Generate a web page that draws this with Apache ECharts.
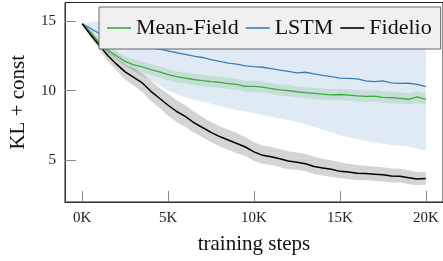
<!DOCTYPE html>
<html><head><meta charset="utf-8">
<script src="https://cdn.jsdelivr.net/npm/echarts@6/dist/echarts.min.js"></script>
<style>html,body{margin:0;padding:0;background:#fff}#c{width:443px;height:261px}</style>
</head><body><div id="c"></div>
<script>
const steps = [0,500,1000,1500,2000,2500,3000,3500,4000,4500,5000,5500,6000,6500,7000,7500,8000,8500,9000,9500,10000,10500,11000,11500,12000,12500,13000,13500,14000,14500,15000,15500,16000,16500,17000,17500,18000,18500,19000,19500,20000];
const xTicks = [0,5000,10000,15000,20000];
const yTicks = [5,10,15];
const seriesNames = ['Mean-Field','LSTM','Fidelio'];

const meanField = [14.8,14.2,13.4,12.9,12.5,12.1,11.85,11.7,11.5,11.35,11.15,11.0,10.9,10.8,10.72,10.65,10.6,10.5,10.45,10.3,10.3,10.25,10.15,10.05,10.0,9.92,9.85,9.8,9.75,9.7,9.72,9.68,9.62,9.58,9.6,9.52,9.5,9.45,9.38,9.55,9.38];
const meanFieldLo = [14.75,13.95,13.1,12.55,12.15,11.75,11.45,11.3,11.1,10.95,10.75,10.6,10.5,10.4,10.3,10.25,10.2,10.1,10.05,9.92,9.9,9.85,9.75,9.65,9.6,9.52,9.45,9.4,9.35,9.3,9.3,9.28,9.22,9.18,9.2,9.12,9.1,9.05,9.0,9.12,9.0];
const meanFieldHi = [14.85,14.45,13.7,13.25,12.85,12.45,12.25,12.1,11.9,11.75,11.55,11.4,11.3,11.2,11.15,11.05,11.0,10.92,10.85,10.7,10.72,10.65,10.55,10.45,10.42,10.32,10.25,10.2,10.15,10.12,10.12,10.1,10.02,10.0,10.02,9.95,9.92,9.88,9.8,9.98,9.8];

const lstm = [14.8,14.45,14.1,13.85,13.6,13.4,13.25,13.15,13.05,12.98,12.85,12.72,12.6,12.48,12.38,12.22,12.1,11.98,11.9,11.78,11.72,11.68,11.58,11.48,11.38,11.28,11.32,11.2,11.1,11.0,10.9,10.88,10.85,10.7,10.65,10.7,10.55,10.52,10.53,10.45,10.28];
const lstmLo = [14.8,13.9,13.3,12.75,12.3,11.85,11.4,11.05,10.7,10.35,10.0,9.75,9.5,9.35,9.2,9.05,8.9,8.75,8.6,8.5,8.4,8.25,8.1,8.0,7.9,7.75,7.6,7.4,7.2,7.0,6.8,6.65,6.5,6.4,6.3,6.2,6.1,6.05,6.0,5.85,5.7];
const lstmHi = [14.8,14.95,15.0,15.0,15.0,15.0,15.0,15.0,15.0,15.0,15.0,15.0,15.0,15.0,15.0,15.0,15.0,15.0,15.0,15.0,15.0,15.0,15.0,15.0,15.0,15.0,15.0,15.0,15.0,15.0,15.0,15.0,15.0,15.0,15.0,15.0,15.0,15.0,15.0,15.0,15.0];

const fidelio = [14.8,14.0,13.25,12.5,11.9,11.35,10.95,10.55,9.95,9.45,8.95,8.5,8.15,7.7,7.35,7.0,6.7,6.45,6.2,5.95,5.6,5.35,5.25,5.1,4.95,4.85,4.75,4.55,4.45,4.35,4.2,4.15,4.07,4.05,4.0,3.95,3.87,3.85,3.75,3.65,3.68];
const fidelioLo = [14.75,13.8,12.95,12.1,11.45,10.8,10.35,9.9,9.25,8.75,8.2,7.75,7.4,7.0,6.65,6.3,6.0,5.75,5.5,5.3,4.95,4.75,4.65,4.5,4.35,4.3,4.2,4.0,3.9,3.8,3.7,3.65,3.58,3.56,3.52,3.48,3.4,3.4,3.3,3.2,3.25];
const fidelioHi = [14.85,14.2,13.55,12.9,12.4,11.9,11.6,11.25,10.7,10.2,9.75,9.3,8.95,8.5,8.1,7.75,7.45,7.2,6.95,6.65,6.3,6.05,5.95,5.8,5.65,5.55,5.45,5.25,5.1,5.0,4.85,4.75,4.65,4.6,4.55,4.5,4.4,4.38,4.28,4.15,4.15];

const FONT = 'Liberation Serif';
const cBlue = '#3a7dc2', cGreen = '#3fa83f', cBlack = '#000000';

function pairs(v){ return steps.map((s,i)=>[s,v[i]]); }
function band(name, lo, hi, fill, z){
  return {
    type:'custom', name:name, silent:true, z:z, clip:true,
    data:[[0,lo[0]]], encode:{x:0,y:1},
    renderItem:function(params, api){
      const pts=[];
      for(let i=0;i<steps.length;i++) pts.push(api.coord([steps[i],hi[i]]));
      for(let i=steps.length-1;i>=0;i--) pts.push(api.coord([steps[i],lo[i]]));
      return {type:'polygon', shape:{points:pts}, style:{fill:fill}};
    }
  };
}
function line(name, v, color, w, z){
  return {type:'line', name:name, data:pairs(v), showSymbol:false, symbol:'none', z:z,
    lineStyle:{color:color,width:w}, itemStyle:{color:color}, animation:false};
}

const chart = echarts.init(document.getElementById('c'), null, {renderer:'canvas'});
chart.setOption({
  animation:false,
  grid:{left:62, top:2.5, width:385.5, height:199.5, show:true, borderColor:'#222', borderWidth:1, backgroundColor:'transparent'},
  legend:{
    data:seriesNames, left:99, top:7, orient:'horizontal',
    icon:'rect', itemWidth:24, itemHeight:1.6, itemGap:7,
    padding:[10,9,10,8],
    backgroundColor:'#f0f0f0', borderColor:'#666', borderWidth:1, borderRadius:0,
    textStyle:{fontFamily:FONT, fontSize:22, color:'#111'},
    z:10
  },
  xAxis:{
    type:'value', min:-1000, max:21000,
    name:'training steps', nameLocation:'middle', nameGap:32,
    nameTextStyle:{fontFamily:FONT, fontSize:21, color:'#111'},
    axisLine:{show:true, onZero:false, lineStyle:{color:'#333', width:1}},
    axisTick:{show:true, inside:true, length:11, customValues:xTicks, lineStyle:{color:'#888'}},
    axisLabel:{customValues:xTicks, margin:9, fontFamily:FONT, fontSize:15, color:'#222',
      formatter:function(v){return (v/1000)+'K';}},
    splitLine:{show:false}
  },
  yAxis:{
    type:'value', min:2, max:16.33,
    name:'KL + const', nameLocation:'middle', nameGap:36, nameRotate:90,
    nameTextStyle:{fontFamily:FONT, fontSize:21, color:'#111'},
    axisLine:{show:true, onZero:false, lineStyle:{color:'#333', width:1}},
    axisTick:{show:true, inside:true, length:11, customValues:yTicks, lineStyle:{color:'#888'}},
    axisLabel:{customValues:yTicks, margin:9, fontFamily:FONT, fontSize:15, color:'#222'},
    splitLine:{show:false}
  },
  series:[
    band('lstmBand', lstmLo, lstmHi, 'rgba(58,125,194,0.16)', 1),
    band('mfBand', meanFieldLo, meanFieldHi, 'rgba(63,168,63,0.16)', 1),
    band('fidBand', fidelioLo, fidelioHi, 'rgba(0,0,0,0.17)', 1),
    line('Mean-Field', meanField, cGreen, 1.3, 3),
    line('LSTM', lstm, cBlue, 1.3, 3),
    line('Fidelio', fidelio, cBlack, 1.5, 4)
  ]
});
</script></body></html>
